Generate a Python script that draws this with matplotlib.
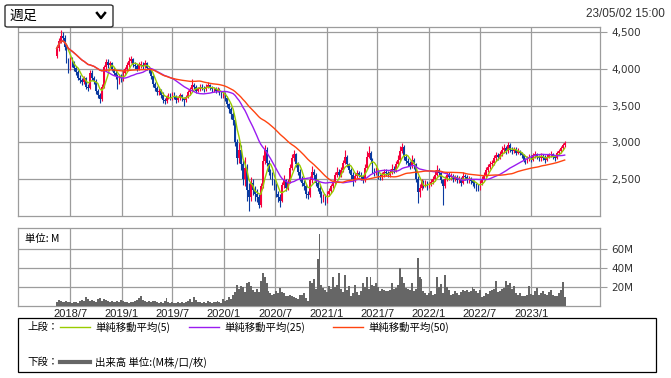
import numpy as np
import pandas as pd
import matplotlib
matplotlib.use("Agg")
import matplotlib.pyplot as plt
import matplotlib.dates as mdates
from matplotlib.patches import FancyBboxPatch, Rectangle
from matplotlib.lines import Line2D

# weekly candles, 2018-05-14 .. 2023-05-01
first_week = "2018-05-14"

opens = [4180, 4280, 4380, 4450, 4420, 4300, 4120, 4000, 4120, 4080,
         4010, 3960, 3880, 3850, 3820, 3870, 3760, 3740, 3950, 3880,
         3840, 3700, 3640, 3590, 3760, 4020, 4100, 4050, 4080, 4000,
         3950, 3900, 3830, 3900, 3860, 3950, 4000, 4060, 4110, 4130,
         4060, 4040, 4000, 4050, 4060, 4040, 4080, 4010, 3980, 3900,
         3790, 3740, 3680, 3700, 3650, 3580, 3560, 3620, 3640, 3600,
         3660, 3620, 3580, 3600, 3640, 3600, 3570, 3620, 3680, 3720,
         3780, 3760, 3700, 3730, 3760, 3740, 3720, 3760, 3780, 3740,
         3720, 3720, 3700, 3720, 3680, 3640, 3650, 3600, 3520, 3450,
         3380, 3300, 3000, 2780, 2900, 2700, 2500, 2650, 2350, 2250,
         2450, 2350, 2300, 2250, 2150, 2400, 2750, 2900, 2720, 2600,
         2560, 2450, 2400, 2300, 2250, 2200, 2420, 2480, 2380, 2460,
         2650, 2780, 2840, 2700, 2600, 2500, 2450, 2400, 2300, 2280,
         2480, 2600, 2550, 2440, 2380, 2300, 2220, 2260, 2200, 2300,
         2340, 2400, 2440, 2550, 2600, 2560, 2620, 2720, 2800, 2700,
         2620, 2560, 2500, 2540, 2580, 2560, 2520, 2480, 2650, 2800,
         2850, 2760, 2620, 2580, 2600, 2540, 2520, 2560, 2600, 2580,
         2560, 2600, 2640, 2620, 2700, 2760, 2880, 2940, 2800, 2750,
         2720, 2680, 2760, 2700, 2500, 2320, 2380, 2460, 2420, 2440,
         2400, 2430, 2460, 2500, 2560, 2620, 2580, 2480, 2400, 2500,
         2560, 2520, 2540, 2500, 2520, 2480, 2500, 2450, 2540, 2520,
         2480, 2500, 2470, 2450, 2420, 2400, 2380, 2450, 2500, 2560,
         2620, 2660, 2700, 2720, 2780, 2820, 2800, 2840, 2900, 2920,
         2880, 2960, 2900, 2880, 2900, 2860, 2880, 2850, 2820, 2760,
         2740, 2780, 2800, 2760, 2820, 2840, 2800, 2780, 2810, 2790,
         2760, 2800, 2820, 2840, 2800, 2790, 2850, 2880, 2920, 2960]

highs = [4310, 4420, 4530, 4510, 4460, 4330, 4150, 4160, 4160, 4110,
         4040, 3990, 3920, 3880, 3900, 3890, 3800, 3990, 3980, 3910,
         3860, 3730, 3670, 3790, 4060, 4140, 4130, 4110, 4100, 4030,
         3980, 3930, 3930, 3930, 3980, 4030, 4090, 4160, 4170, 4150,
         4090, 4070, 4090, 4110, 4090, 4120, 4100, 4040, 4000, 3920,
         3820, 3770, 3740, 3730, 3680, 3610, 3650, 3670, 3670, 3690,
         3680, 3640, 3630, 3670, 3660, 3620, 3650, 3710, 3750, 3860,
         3810, 3780, 3760, 3790, 3800, 3770, 3790, 3820, 3800, 3770,
         3750, 3750, 3750, 3740, 3700, 3690, 3680, 3630, 3540, 3480,
         3410, 3320, 3050, 3010, 2960, 2760, 2800, 2700, 2450, 2520,
         2500, 2400, 2360, 2300, 2450, 2820, 2960, 2930, 2760, 2640,
         2600, 2500, 2440, 2340, 2300, 2460, 2560, 2500, 2500, 2700,
         2840, 2900, 2860, 2730, 2640, 2540, 2480, 2430, 2340, 2540,
         2680, 2640, 2580, 2470, 2420, 2330, 2300, 2290, 2340, 2380,
         2430, 2480, 2600, 2660, 2640, 2660, 2760, 2900, 2830, 2720,
         2650, 2590, 2580, 2620, 2610, 2590, 2550, 2700, 2880, 2950,
         2880, 2780, 2650, 2660, 2620, 2570, 2600, 2630, 2630, 2610,
         2640, 2700, 2680, 2740, 2820, 2950, 2990, 2960, 2840, 2790,
         2750, 2820, 2790, 2720, 2540, 2430, 2500, 2490, 2480, 2470,
         2460, 2500, 2540, 2620, 2690, 2650, 2600, 2500, 2540, 2600,
         2590, 2580, 2570, 2560, 2550, 2540, 2530, 2590, 2570, 2550,
         2540, 2530, 2500, 2480, 2450, 2430, 2490, 2540, 2600, 2660,
         2700, 2740, 2760, 2820, 2870, 2860, 2880, 2950, 2970, 2950,
         3010, 2990, 2940, 2940, 2930, 2920, 2900, 2870, 2840, 2790,
         2810, 2840, 2820, 2850, 2880, 2860, 2830, 2850, 2840, 2820,
         2840, 2860, 2880, 2860, 2830, 2880, 2910, 2950, 2990, 3020]

lows = [4150, 4250, 4350, 4380, 4260, 4080, 3950, 3980, 4030, 3970,
        3920, 3850, 3810, 3780, 3790, 3720, 3700, 3720, 3850, 3800,
        3660, 3600, 3540, 3560, 3740, 3990, 4010, 4020, 3970, 3920,
        3860, 3720, 3800, 3820, 3840, 3920, 3980, 4030, 4080, 4030,
        4000, 3970, 3980, 4010, 4000, 4010, 3980, 3940, 3860, 3750,
        3700, 3640, 3650, 3600, 3540, 3520, 3530, 3590, 3570, 3580,
        3590, 3540, 3550, 3580, 3560, 3500, 3550, 3600, 3650, 3700,
        3720, 3670, 3680, 3700, 3710, 3690, 3700, 3740, 3710, 3690,
        3690, 3670, 3680, 3640, 3600, 3600, 3560, 3480, 3400, 3320,
        3230, 2950, 2700, 2720, 2620, 2420, 2400, 2200, 2060, 2200,
        2280, 2200, 2180, 2100, 2120, 2380, 2700, 2680, 2550, 2500,
        2420, 2350, 2250, 2180, 2120, 2180, 2380, 2330, 2350, 2440,
        2620, 2740, 2660, 2560, 2470, 2400, 2350, 2240, 2230, 2260,
        2450, 2500, 2400, 2330, 2250, 2170, 2180, 2140, 2170, 2270,
        2310, 2370, 2420, 2520, 2520, 2530, 2600, 2700, 2660, 2580,
        2500, 2400, 2460, 2510, 2520, 2480, 2440, 2460, 2630, 2780,
        2720, 2580, 2540, 2550, 2500, 2480, 2490, 2530, 2540, 2520,
        2530, 2570, 2580, 2600, 2680, 2740, 2850, 2760, 2700, 2680,
        2640, 2650, 2640, 2460, 2170, 2260, 2350, 2380, 2390, 2350,
        2370, 2400, 2430, 2470, 2540, 2540, 2440, 2150, 2380, 2470,
        2480, 2490, 2460, 2470, 2440, 2450, 2410, 2430, 2480, 2440,
        2450, 2430, 2410, 2380, 2340, 2330, 2350, 2420, 2480, 2530,
        2590, 2630, 2670, 2690, 2750, 2760, 2770, 2810, 2860, 2840,
        2860, 2870, 2840, 2850, 2830, 2840, 2820, 2790, 2730, 2700,
        2720, 2750, 2730, 2740, 2790, 2770, 2740, 2750, 2760, 2720,
        2740, 2780, 2800, 2770, 2750, 2770, 2830, 2860, 2890, 2940]

closes = [4280, 4380, 4450, 4420, 4300, 4120, 4000, 4120, 4080, 4010,
          3960, 3880, 3850, 3820, 3870, 3760, 3740, 3950, 3880, 3840,
          3700, 3640, 3590, 3760, 4020, 4100, 4050, 4080, 4000, 3950,
          3900, 3830, 3900, 3860, 3950, 4000, 4060, 4110, 4130, 4060,
          4040, 4000, 4050, 4060, 4040, 4080, 4010, 3980, 3900, 3790,
          3740, 3680, 3700, 3650, 3580, 3560, 3620, 3640, 3600, 3660,
          3620, 3580, 3600, 3640, 3600, 3570, 3620, 3680, 3720, 3780,
          3760, 3700, 3730, 3760, 3740, 3720, 3760, 3780, 3740, 3720,
          3720, 3700, 3720, 3680, 3640, 3650, 3600, 3520, 3450, 3380,
          3300, 3000, 2780, 2900, 2700, 2500, 2650, 2350, 2250, 2450,
          2350, 2300, 2250, 2150, 2400, 2750, 2900, 2720, 2600, 2560,
          2450, 2400, 2300, 2250, 2200, 2420, 2480, 2380, 2460, 2650,
          2780, 2840, 2700, 2600, 2500, 2450, 2400, 2300, 2280, 2480,
          2600, 2550, 2440, 2380, 2300, 2220, 2260, 2200, 2300, 2340,
          2400, 2440, 2550, 2600, 2560, 2620, 2720, 2800, 2700, 2620,
          2560, 2500, 2540, 2580, 2560, 2520, 2480, 2650, 2800, 2850,
          2760, 2620, 2580, 2600, 2540, 2520, 2560, 2600, 2580, 2560,
          2600, 2640, 2620, 2700, 2760, 2880, 2940, 2800, 2750, 2720,
          2680, 2760, 2700, 2500, 2320, 2380, 2460, 2420, 2440, 2400,
          2430, 2460, 2500, 2560, 2620, 2580, 2480, 2400, 2500, 2560,
          2520, 2540, 2500, 2520, 2480, 2500, 2450, 2540, 2520, 2480,
          2500, 2470, 2450, 2420, 2400, 2380, 2450, 2500, 2560, 2620,
          2660, 2700, 2720, 2780, 2820, 2800, 2840, 2900, 2920, 2880,
          2960, 2900, 2880, 2900, 2860, 2880, 2850, 2820, 2760, 2740,
          2780, 2800, 2760, 2820, 2840, 2800, 2780, 2810, 2790, 2760,
          2800, 2820, 2840, 2800, 2790, 2850, 2880, 2920, 2960, 2990]

# weekly volume, millions
volumes = [4, 6, 5, 4, 4, 5, 4, 4, 3, 4,
           4, 3, 5, 6, 5, 9, 7, 5, 6, 5,
           4, 7, 8, 5, 7, 6, 5, 4, 5, 4,
           4, 5, 4, 6, 5, 4, 4, 3, 4, 4,
           5, 6, 8, 10, 6, 5, 4, 5, 4, 5,
           5, 4, 3, 4, 3, 5, 8, 4, 3, 4,
           3, 3, 4, 3, 4, 3, 4, 5, 7, 4,
           9, 6, 4, 4, 3, 4, 3, 5, 4, 3,
           4, 4, 5, 4, 3, 7, 5, 6, 9, 7,
           12, 15, 22, 18, 21, 20, 15, 24, 25, 21,
           17, 15, 18, 15, 26, 35, 30, 24, 16, 14,
           12, 13, 16, 14, 19, 15, 14, 11, 10, 12,
           11, 9, 8, 7, 12, 12, 14, 8, 5, 26,
           24, 28, 18, 49, 76, 22, 19, 17, 15, 21,
           18, 31, 20, 22, 35, 18, 15, 33, 17, 21,
           10, 14, 22, 15, 12, 16, 24, 20, 30, 18,
           30, 22, 21, 24, 20, 16, 18, 17, 16, 16,
           17, 24, 18, 19, 22, 40, 30, 24, 19, 18,
           17, 24, 16, 18, 50, 30, 28, 16, 14, 12,
           14, 16, 12, 13, 30, 20, 23, 14, 33, 20,
           17, 12, 13, 16, 14, 12, 15, 17, 16, 17,
           15, 16, 20, 18, 16, 14, 17, 9, 10, 14,
           13, 16, 17, 18, 26, 15, 16, 18, 19, 26,
           22, 24, 18, 21, 14, 12, 14, 11, 10, 11,
           12, 21, 13, 12, 16, 19, 12, 14, 16, 13,
           12, 15, 17, 12, 11, 10, 14, 17, 25, 9]

grid_months = ["2018-07-01", "2019-01-01", "2019-07-01", "2020-01-01", "2020-07-01",
               "2021-01-01", "2021-07-01", "2022-01-01", "2022-07-01", "2023-01-01"]
grid_labels = ["2018/7", "2019/1", "2019/7", "2020/1", "2020/7",
               "2021/1", "2021/7", "2022/1", "2022/7", "2023/1"]
price_ticks = [2500, 3000, 3500, 4000, 4500]
vol_ticks = [20, 40, 60]

UP = "#f5003c"
DOWN = "#0a3aa0"
MA_COLORS = {5: "#99cc00", 25: "#9a1cf0", 50: "#ff4410"}
GRID = "#9c9c9c"
JP = ["Noto Sans CJK JP", "DejaVu Sans"]

W, H = 671, 378


def fx(px):
    return px / W


def fy(py):
    return 1 - py / H


dates = pd.date_range(first_week, periods=len(closes), freq="7D")
x = mdates.date2num(dates)
o = np.array(opens, float)
c = np.array(closes, float)
hi = np.array(highs, float)
lo = np.array(lows, float)
up = c >= o
cols = np.where(up, UP, DOWN)

fig = plt.figure(figsize=(W / 100, H / 100), dpi=100)
ax = fig.add_axes([fx(18), fy(216), fx(600) - fx(18), fy(27) - fy(216)])
axv = fig.add_axes([fx(18), fy(306), fx(600) - fx(18), fy(228) - fy(306)])

xl = (mdates.date2num(pd.Timestamp("2017-12-27")), mdates.date2num(pd.Timestamp("2023-09-04")))
gx = mdates.date2num(pd.to_datetime(grid_months))

# candles
ax.vlines(x, lo, hi, colors=cols, lw=0.8, zorder=3)
body = np.maximum(np.abs(c - o), 12)
ax.bar(x, body, bottom=np.minimum(o, c), width=6.0, color=cols, lw=0, zorder=3,
       antialiased=False)

s = pd.Series(c)
for n, col in MA_COLORS.items():
    ax.plot(x, s.rolling(n, min_periods=1).mean(), color=col, lw=1.0, zorder=4)

ax.set_xlim(*xl)
ax.set_ylim(1995, 4572)
ax.set_xticks(gx)
ax.set_xticklabels([])
ax.set_yticks(price_ticks)
ax.set_yticklabels(["{:,}".format(t) for t in price_ticks])
ax.yaxis.tick_right()
ax.tick_params(axis="x", length=0)
ax.tick_params(axis="y", length=5, width=0.8, color=GRID, labelsize=7.5,
               labelcolor="#333333", pad=3)
ax.grid(True, color=GRID, lw=0.9, zorder=0)
for sp in ax.spines.values():
    sp.set_color(GRID)
    sp.set_linewidth(0.9)

# volume
axv.bar(x, volumes, width=7.0, color="#666666", lw=0, zorder=3, antialiased=False)
axv.set_xlim(*xl)
axv.set_ylim(0, 82)
axv.set_xticks(gx)
axv.set_xticklabels(grid_labels, fontsize=8, color="#222222", family="Liberation Sans")
axv.set_yticks(vol_ticks)
axv.set_yticklabels(["{}M".format(t) for t in vol_ticks])
axv.yaxis.tick_right()
axv.tick_params(axis="x", length=0, pad=2)
axv.tick_params(axis="y", length=5, width=0.8, color=GRID, labelsize=7.5,
                labelcolor="#333333", pad=3)
axv.grid(True, color=GRID, lw=0.9, zorder=0)
for sp in axv.spines.values():
    sp.set_color(GRID)
    sp.set_linewidth(0.9)
axv.text(0.012, 0.93, "単位: M", transform=axv.transAxes, fontsize=7.5,
         va="top", ha="left", family=JP)

# period selector box and timestamp
fig.patches.append(FancyBboxPatch((fx(5), fy(27)), fx(113) - fx(5), fy(5) - fy(27),
                                  boxstyle="round,pad=0,rounding_size=0.004",
                                  transform=fig.transFigure, fc="white", ec="#333333", lw=1.0))
fig.text(fx(9), fy(16), "週足", fontsize=10, va="center", ha="left", family=JP)
fig.lines.append(Line2D([fx(97), fx(101), fx(105)], [fy(13), fy(18), fy(13)],
                        transform=fig.transFigure, color="black", lw=1.8))
fig.text(fx(665), fy(14), "23/05/02 15:00", fontsize=8.5, va="center", ha="right",
         color="#333333", family="Liberation Sans")

# legend box
fig.patches.append(Rectangle((fx(18), fy(372)), fx(656) - fx(18), fy(318) - fy(372),
                             transform=fig.transFigure, fc="white", ec="black", lw=0.9))
fig.text(fx(27), fy(327), "上段：", fontsize=7.5, va="center", family=JP)
leg = [(60, 95, 5), (189, 224, 25), (333, 368, 50)]
for x0, tx, n in leg:
    fig.lines.append(Line2D([fx(x0), fx(x0 + 30)], [fy(327), fy(327)],
                            transform=fig.transFigure, color=MA_COLORS[n], lw=1.0))
    fig.text(fx(tx), fy(327), "単純移動平均(%d)" % n, fontsize=7.5, va="center", family=JP)
fig.text(fx(27), fy(362), "下段：", fontsize=7.5, va="center", family=JP)
fig.lines.append(Line2D([fx(60), fx(90)], [fy(362), fy(362)],
                        transform=fig.transFigure, color="#666666", lw=3))
fig.text(fx(95), fy(362), "出来高 単位:(M株/口/枚)", fontsize=7.5, va="center", family=JP)

fig.savefig("out.png", dpi=100)
